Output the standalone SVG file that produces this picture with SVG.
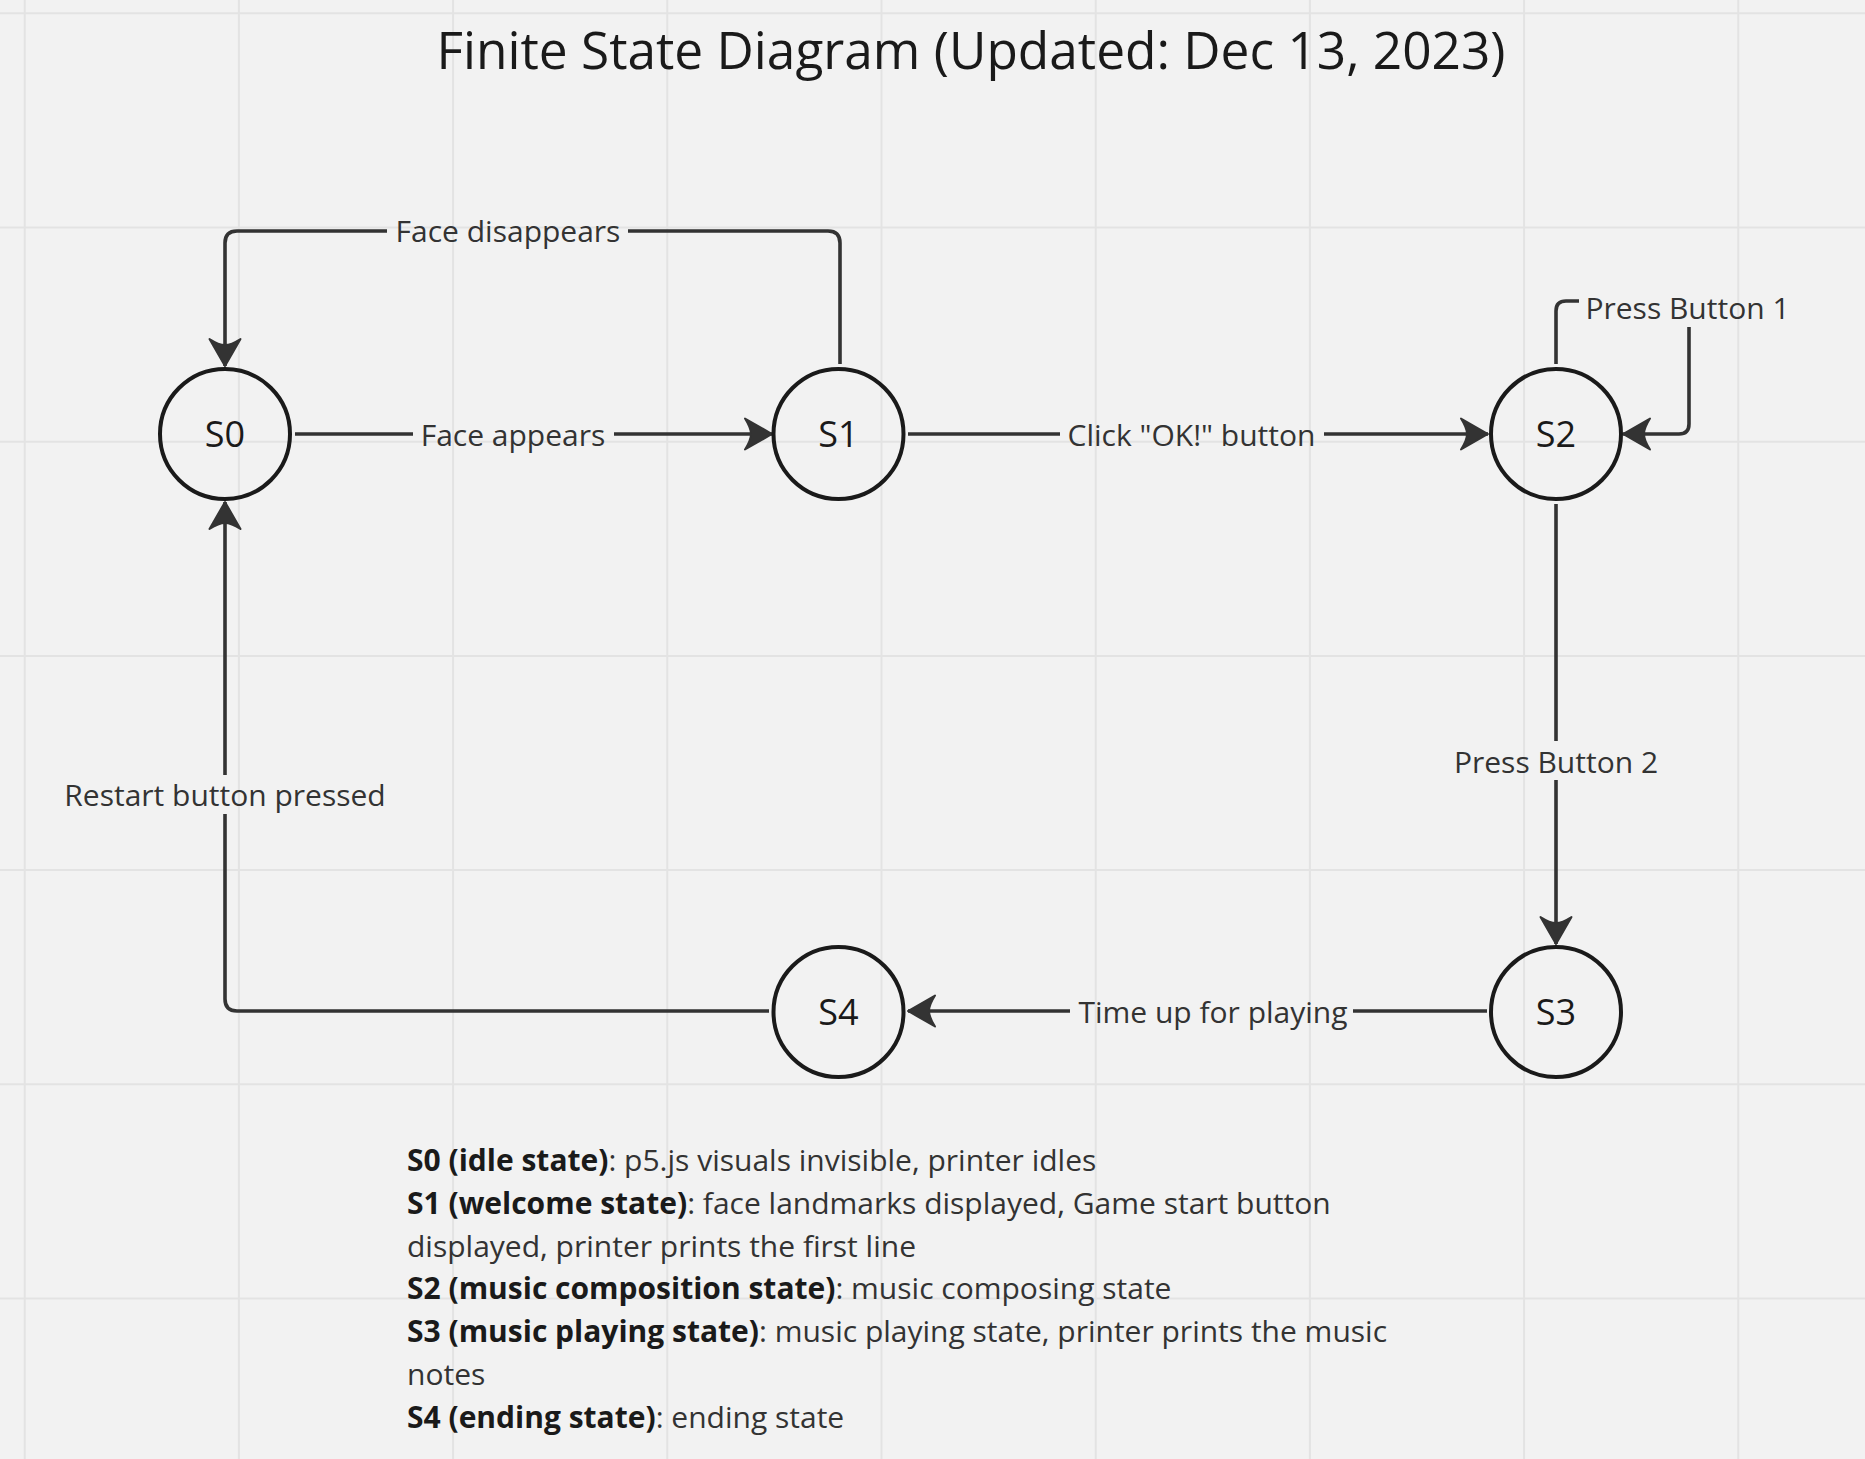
<svg xmlns="http://www.w3.org/2000/svg" width="1865" height="1459" viewBox="0 0 1865 1459">
<style>
.grid line{stroke:#e3e3e3;stroke-width:2}
.node circle{fill:none;stroke:#1a1a1a;stroke-width:4}
.node text{font-family:"Open Sans","Liberation Sans",sans-serif;font-size:36px;fill:#1a1a1a;text-anchor:middle}
.edge path{fill:none;stroke:#333333;stroke-width:3.6}
.edge text{font-family:"Open Sans","Liberation Sans",sans-serif;font-size:30px;fill:#333333;text-anchor:middle}
.title{font-family:"Open Sans","Liberation Sans",sans-serif;font-size:51.4px;fill:#1a1a1a;text-anchor:middle}
.desc{font-family:"Open Sans","Liberation Sans",sans-serif;font-size:30px;fill:#333333}
.desc .b{font-weight:bold;fill:#1a1a1a}
</style>
<defs>
<marker id="arr" markerUnits="userSpaceOnUse" markerWidth="40" markerHeight="40" viewBox="-32 -20 36 40" refX="0" refY="0" orient="auto" overflow="visible">
<path d="M0,0 L-27,-15.5 Q-21,-6 -21,0 Q-21,6 -27,15.5 Z" fill="#333333" stroke="#333333" stroke-width="2" stroke-linejoin="round"/>
</marker>
</defs>
<rect x="0" y="0" width="1865" height="1459" fill="#f2f2f2"/>
<g class="grid">
<line x1="24.7" y1="0" x2="24.7" y2="1459"/>
<line x1="238.9" y1="0" x2="238.9" y2="1459"/>
<line x1="453.1" y1="0" x2="453.1" y2="1459"/>
<line x1="667.3" y1="0" x2="667.3" y2="1459"/>
<line x1="881.5" y1="0" x2="881.5" y2="1459"/>
<line x1="1095.7" y1="0" x2="1095.7" y2="1459"/>
<line x1="1309.9" y1="0" x2="1309.9" y2="1459"/>
<line x1="1524.1" y1="0" x2="1524.1" y2="1459"/>
<line x1="1738.3" y1="0" x2="1738.3" y2="1459"/>
<line x1="0" y1="13.3" x2="1865" y2="13.3"/>
<line x1="0" y1="227.5" x2="1865" y2="227.5"/>
<line x1="0" y1="441.7" x2="1865" y2="441.7"/>
<line x1="0" y1="655.9" x2="1865" y2="655.9"/>
<line x1="0" y1="870.1" x2="1865" y2="870.1"/>
<line x1="0" y1="1084.3" x2="1865" y2="1084.3"/>
<line x1="0" y1="1298.5" x2="1865" y2="1298.5"/>
</g>
<text class="title" x="971" y="69">Finite State Diagram (Updated: Dec 13, 2023)</text>
<g id="connectors">
<g class="edge" id="e-s0-s1">
<path d="M295,434 H413"/>
<path d="M614,434 H772" marker-end="url(#arr)"/>
<text x="513" y="446">Face appears</text>
</g>
<g class="edge" id="e-s1-s0">
<path d="M840,364 V243 Q840,231 828,231 H628"/>
<path d="M387,231 H237 Q225,231 225,243 V366" marker-end="url(#arr)"/>
<text x="508" y="242">Face disappears</text>
</g>
<g class="edge" id="e-s1-s2">
<path d="M908,434 H1060"/>
<path d="M1324,434 H1488" marker-end="url(#arr)"/>
<text x="1191.5" y="446">Click "OK!" button</text>
</g>
<g class="edge" id="e-s2-s2">
<path d="M1556,364 V311 Q1556,301 1566,301 H1579"/>
<path d="M1689,327 V424 Q1689,434 1679,434 H1623" marker-end="url(#arr)"/>
<text x="1687.5" y="319">Press Button 1</text>
</g>
<g class="edge" id="e-s2-s3">
<path d="M1556,504 V741"/>
<path d="M1556,780 V944" marker-end="url(#arr)"/>
<text x="1556" y="772.5">Press Button 2</text>
</g>
<g class="edge" id="e-s3-s4">
<path d="M1487,1011 H1353"/>
<path d="M1070,1011 H908" marker-end="url(#arr)"/>
<text x="1213" y="1022.5">Time up for playing</text>
</g>
<g class="edge" id="e-s4-s0">
<path d="M769,1011 H237 Q225,1011 225,999 V814"/>
<path d="M225,775 V502" marker-end="url(#arr)"/>
<text x="225" y="805.5">Restart button pressed</text>
</g>
</g>
<g class="node" id="S0"><circle cx="225" cy="434" r="65"/><text x="225" y="447">S0</text></g>
<g class="node" id="S1"><circle cx="838.5" cy="434" r="65"/><text x="838.5" y="447">S1</text></g>
<g class="node" id="S2"><circle cx="1556" cy="434" r="65"/><text x="1556" y="447">S2</text></g>
<g class="node" id="S3"><circle cx="1556" cy="1012" r="65"/><text x="1556" y="1025">S3</text></g>
<g class="node" id="S4"><circle cx="838.5" cy="1012" r="65"/><text x="838.5" y="1025">S4</text></g>
<g id="legend" class="desc">
<text x="407" y="1171"><tspan class="b">S0 (idle state)</tspan>: p5.js visuals invisible, printer idles</text>
<text x="407" y="1213.75"><tspan class="b">S1 (welcome state)</tspan>: face landmarks displayed, Game start button</text>
<text x="407" y="1256.5">displayed, printer prints the first line</text>
<text x="407" y="1299.25"><tspan class="b">S2 (music composition state)</tspan>: music composing state</text>
<text x="407" y="1342"><tspan class="b">S3 (music playing state)</tspan>: music playing state, printer prints the music</text>
<text x="407" y="1384.75">notes</text>
<text x="407" y="1427.5"><tspan class="b">S4 (ending state)</tspan>: ending state</text>
</g>
</svg>
